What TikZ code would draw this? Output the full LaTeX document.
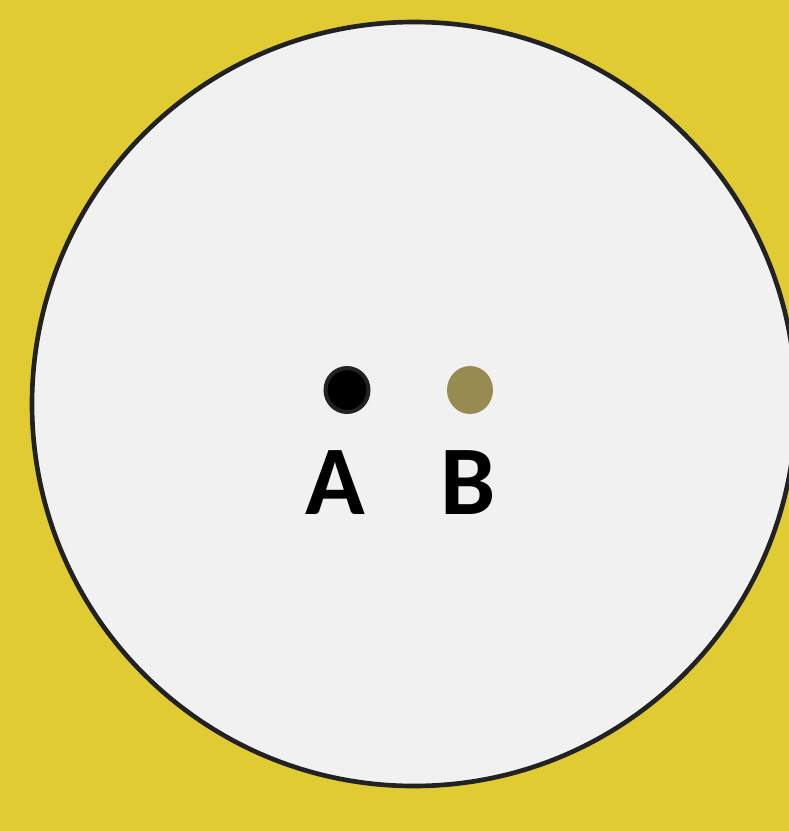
\documentclass[tikz,border=0pt]{standalone}
\usepackage{fontspec}
\setmainfont{Carlito}
\definecolor{bgyellow}{HTML}{E0CB33}
\definecolor{discgray}{HTML}{F1F1F1}
\definecolor{rimgray}{HTML}{222222}
\definecolor{olivedot}{HTML}{978B52}
\begin{document}
\begin{tikzpicture}[x=0.0264cm, y=-0.0264cm]
% --- Styles ---
\tikzstyle{rim} = [draw=rimgray, line width=3.5pt, fill=discgray]
\tikzstyle{dot} = [ellipse, inner sep=0pt]
\tikzstyle{letter} = [anchor=base, inner sep=0pt, font=\fontsize{74}{80}\selectfont\bfseries]

% --- Layout ---
\def\cx{414}   % disc centre x
\def\cy{404}   % disc centre y
\def\rr{382}   % disc radius
\def\ya{390}   % dots row
\def\yl{514}   % letter baseline

% background and frame
\useasboundingbox (0,0) rectangle (789,831);
\fill[bgyellow] (0,0) rectangle (789,831);
\clip (0,0) rectangle (789,831);

% big disc
\draw[rim] (\cx,\cy) circle[radius=\rr];

% dots
\draw[fill=black, draw=rimgray, line width=3pt] (347,\ya) ellipse[x radius=21.5, y radius=22];
\fill[olivedot] (470,\ya) ellipse[x radius=23, y radius=24];

% labels
\node[letter] (labA) at (335,\yl) {A};
\node[letter] (labB) at (468,\yl) {B};
\end{tikzpicture}
\end{document}
